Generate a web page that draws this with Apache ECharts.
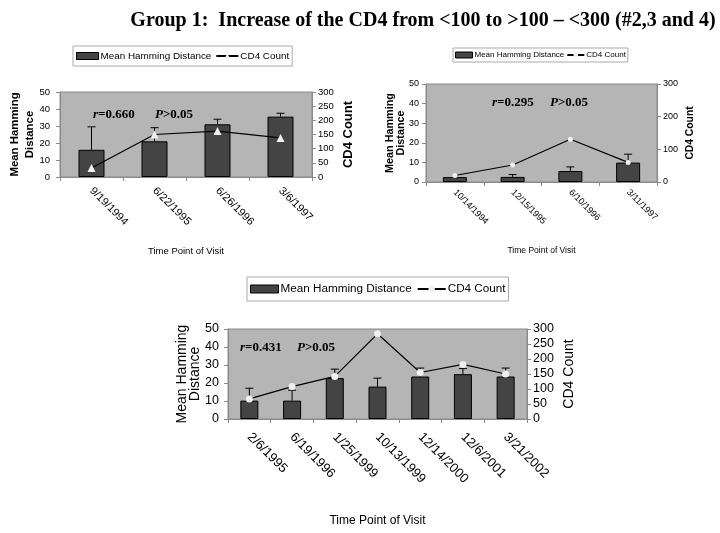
<!DOCTYPE html>
<html><head><meta charset="utf-8">
<script src="https://cdn.jsdelivr.net/npm/echarts@6/dist/echarts.min.js"></script>
<style>html,body{margin:0;padding:0;background:#fff}#c{width:720px;height:533px}</style>
</head><body><div id="c"></div>
<script>
// ---- data ----
const titleText = 'Group 1:  Increase of the CD4 from <100 to >100 \u2013 <300 (#2,3 and 4)';
const legendBar = 'Mean Hamming Distance';
const legendLine = 'CD4 Count';
const xName = 'Time Point of Visit';
const yLeftName = 'Mean Hamming\nDistance';
const yRightName = 'CD4 Count';

const tlCats = ['9/19/1994', '6/22/1995', '6/26/1996', '3/6/1997'];
const tlHamming = [16, 21, 31, 35.5];
const tlHammingErr = [29.5, 29, 34, 37.5];
const tlCD4 = [32, 150, 162, 138];
const tlStats = ['0.660', '0.05'];

const trCats = ['10/14/1994', '12/15/1995', '6/10/1996', '3/11/1997'];
const trHamming = [2.5, 2.6, 5.6, 9.9];
const trHammingErr = [null, 3.8, 7.7, 14.2];
const trCD4 = [20, 52, 131, 60];
const trStats = ['0.295', '0.05'];

const bCats = ['2/6/1995', '6/19/1996', '1/25/1999', '10/13/1999', '12/14/2000', '12/6/2001', '3/21/2002'];
const bHamming = [10.2, 10.2, 22.7, 18, 23.6, 24.9, 23.6];
const bHammingErr = [17.1, 16, 27.7, 22.7, 28.3, 28, 28.3];
const bCD4 = [67, 108, 142, 284, 155, 182, 150];
const bStats = ['0.431', '0.05'];

const leftTicks = {min: 0, max: 50, interval: 10};
const rightTicksTL = {min: 0, max: 300, interval: 50};
const rightTicksTR = {min: 0, max: 300, interval: 100};
const rightTicksB = {min: 0, max: 300, interval: 50};

// ---- layout / style ----
const FONT = "'Liberation Sans', Arial, sans-serif";
const SERIF = "'Liberation Serif', 'Times New Roman', serif";

const panels = [
  {cats: tlCats, bars: tlHamming, errs: tlHammingErr, cd4: tlCD4, stats: tlStats, right: rightTicksTL,
   grid: {left: 60, top: 92, width: 252, height: 85},
   legend: {left: 73, top: 46, font: 9.9, iw: 22, ih: 7, pad: [5, 3], gap: 4},
   barWidth: 26, cap: 4, symbol: 'triangle', symbolSize: 8,
   tickFont: 9.5, xFont: 11, xMargin: 12, nameFont: 9.5, nameGap: 69,
   yNameFont: 11.4, yNameBold: 'bold', yNameGap: 23, yNameLH: 14.5, rNameFont: 13, rNameGap: 30, rNameBold: 'bold',
   lMargin: 10, rMargin: 6,
   stat: {rx: 93, px: 155, y: 116, size: 13}},
  {cats: trCats, bars: trHamming, errs: trHammingErr, cd4: trCD4, stats: trStats, right: rightTicksTR,
   grid: {left: 426, top: 84, width: 231, height: 98},
   legend: {left: 453, top: 48, font: 8, iw: 17, ih: 6, pad: [3, 2], gap: 2},
   barWidth: 24, cap: 4, symbol: 'circle', symbolSize: 5,
   tickFont: 9, xFont: 9, xMargin: 9, nameFont: 8.5, nameGap: 64,
   yNameFont: 10.8, yNameBold: 'bold', yNameGap: 19, yNameLH: 11.5, rNameFont: 10.3, rNameGap: 28, rNameBold: 'bold',
   lMargin: 7, rMargin: 6,
   stat: {rx: 492, px: 550, y: 104, size: 13}},
  {cats: bCats, bars: bHamming, errs: bHammingErr, cd4: bCD4, stats: bStats, right: rightTicksB,
   grid: {left: 228, top: 329, width: 299, height: 90},
   legend: {left: 247, top: 277, font: 11.7, iw: 28, ih: 8, pad: [6, 3], gap: 5},
   barWidth: 18, cap: 4, symbol: 'circle', symbolSize: 7,
   tickFont: 12.5, xFont: 13, xMargin: 16, nameFont: 12, nameGap: 96,
   yNameFont: 14, yNameBold: 'normal', yNameGap: 26, yNameLH: 13, rNameFont: 14, rNameGap: 35, rNameBold: 'normal',
   lMargin: 9, rMargin: 6,
   stat: {rx: 240, px: 297, y: 349, size: 13}}
];

const grids = [], xAxes = [], yAxes = [], series = [], legends = [], graphics = [];

panels.forEach((p, i) => {
  grids.push(Object.assign({show: true, backgroundColor: '#b5b5b5', borderColor: '#8a8a8a', borderWidth: 1,
    containLabel: false}, p.grid));
  xAxes.push({type: 'category', gridIndex: i, data: p.cats, boundaryGap: true,
    axisLine: {show: true, lineStyle: {color: '#8a8a8a'}},
    axisTick: {show: true, alignWithLabel: false, length: 4, lineStyle: {color: '#8a8a8a'}},
    axisLabel: {rotate: -45, margin: p.xMargin, fontSize: p.xFont, color: '#000', fontFamily: FONT, interval: 0},
    name: xName, nameLocation: 'middle', nameGap: p.nameGap, nameMoveOverlap: false,
    nameTextStyle: {fontSize: p.nameFont, color: '#000', fontFamily: FONT}});
  const li = yAxes.length;
  yAxes.push(Object.assign({type: 'value', gridIndex: i, position: 'left',
    axisLine: {show: true, lineStyle: {color: '#8a8a8a'}},
    axisTick: {show: true, length: 4, lineStyle: {color: '#8a8a8a'}},
    splitLine: {show: false},
    axisLabel: {fontSize: p.tickFont, color: '#000', fontFamily: FONT, margin: p.lMargin},
    name: yLeftName, nameLocation: 'middle', nameGap: p.yNameGap, nameMoveOverlap: false,
    nameTextStyle: {fontSize: p.yNameFont, fontWeight: p.yNameBold, color: '#000', fontFamily: FONT, lineHeight: p.yNameLH}
  }, leftTicks));
  const ri = yAxes.length;
  yAxes.push(Object.assign({type: 'value', gridIndex: i, position: 'right',
    axisLine: {show: true, lineStyle: {color: '#8a8a8a'}},
    axisTick: {show: true, length: 4, lineStyle: {color: '#8a8a8a'}},
    splitLine: {show: false},
    axisLabel: {fontSize: p.tickFont, color: '#000', fontFamily: FONT, margin: p.rMargin},
    name: yRightName, nameLocation: 'middle', nameGap: p.rNameGap, nameMoveOverlap: false,
    nameTextStyle: {fontSize: p.rNameFont, fontWeight: p.rNameBold, color: '#000', fontFamily: FONT}
  }, p.right));

  const barName = 'bar' + i, lineName = 'line' + i;
  series.push({type: 'bar', name: barName, xAxisIndex: i, yAxisIndex: li, data: p.bars,
    barWidth: p.barWidth, itemStyle: {color: '#444', borderColor: '#000', borderWidth: 1}, z: 2});
  series.push({type: 'custom', name: 'err' + i, xAxisIndex: i, yAxisIndex: li,
    data: p.cats.map((c, j) => [j, p.bars[j], p.errs[j]]),
    encode: {x: 0, y: [1, 2]}, z: 3,
    renderItem: (params, api) => {
      const top = api.value(2);
      if (top === null || isNaN(top)) return null;
      const x = api.value(0);
      const lo = api.coord([x, api.value(1)]);
      const hi = api.coord([x, top]);
      const w = p.cap;
      return {type: 'group', children: [
        {type: 'line', shape: {x1: lo[0], y1: lo[1], x2: hi[0], y2: hi[1]}, style: {stroke: '#000', lineWidth: 1}},
        {type: 'line', shape: {x1: hi[0] - w, y1: hi[1], x2: hi[0] + w, y2: hi[1]}, style: {stroke: '#000', lineWidth: 1}}
      ]};
    }});
  series.push({type: 'line', name: lineName, xAxisIndex: i, yAxisIndex: ri, data: p.cd4,
    symbol: p.symbol, symbolSize: p.symbolSize, showSymbol: true,
    lineStyle: {color: '#000', width: 1.2}, itemStyle: {color: '#f0f0f0', borderWidth: 0}, z: 4});

  const fmt = {};
  fmt[barName] = legendBar; fmt[lineName] = legendLine;
  legends.push({left: p.legend.left, top: p.legend.top, orient: 'horizontal',
    data: [{name: barName, icon: 'rect', itemStyle: {color: '#444', borderColor: '#000', borderWidth: 1}}, {name: lineName}],
    itemWidth: p.legend.iw, itemHeight: p.legend.ih, itemGap: p.legend.gap,
    padding: p.legend.pad, borderColor: '#aaa', borderWidth: 1, backgroundColor: '#fff',
    textStyle: {fontSize: p.legend.font, color: '#000', fontFamily: FONT, padding: [0, 0, 0, -3]},
    formatter: n => fmt[n], selectedMode: false});

  const st = p.stat;
  graphics.push({type: 'text', left: st.rx, top: st.y - st.size * 0.6, z: 10,
    style: {rich: {i: {fontStyle: 'italic', fontWeight: 'bold', fontSize: st.size, fontFamily: SERIF},
                    b: {fontWeight: 'bold', fontSize: st.size, fontFamily: SERIF}},
            text: '{i|r}{b|=' + p.stats[0] + '}', fill: '#000'}});
  graphics.push({type: 'text', left: st.px, top: st.y - st.size * 0.6, z: 10,
    style: {rich: {i: {fontStyle: 'italic', fontWeight: 'bold', fontSize: st.size, fontFamily: SERIF},
                    b: {fontWeight: 'bold', fontSize: st.size, fontFamily: SERIF}},
            text: '{i|P}{b|>' + p.stats[1] + '}', fill: '#000'}});
});

const chart = echarts.init(document.getElementById('c'), null, {renderer: 'canvas'});
chart.setOption({
  animation: false,
  backgroundColor: '#fff',
  textStyle: {fontFamily: FONT},
  title: {text: titleText, left: 418, top: 6, textAlign: 'center',
    textStyle: {fontFamily: SERIF, fontWeight: 'bold', fontSize: 20, color: '#000'}},
  grid: grids, xAxis: xAxes, yAxis: yAxes, legend: legends, series: series, graphic: graphics
});
</script></body></html>
